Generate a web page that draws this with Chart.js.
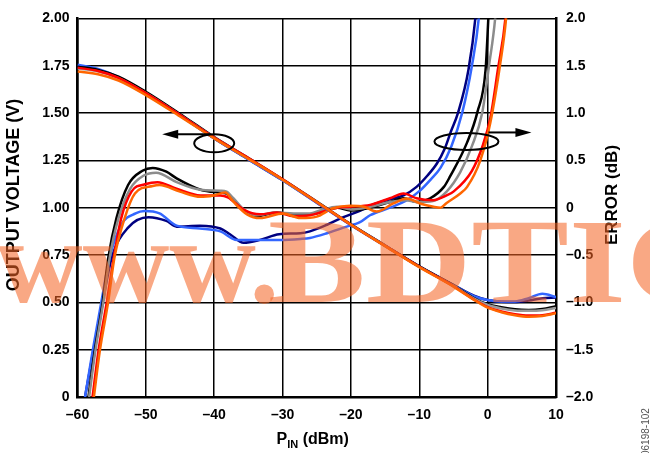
<!DOCTYPE html>
<html>
<head>
<meta charset="utf-8">
<script src="https://cdn.jsdelivr.net/npm/chart.js@4.4.1/dist/chart.umd.min.js"></script>
<style>
body { margin: 0; background: #fff; }
canvas { display: block; }
</style>
</head>
<body>
<canvas id="myChart" width="650" height="453"></canvas>
<script>
const ctx = document.getElementById('myChart')

// output voltage (V) vs PIN (dBm)
const xVolt = [-60, -57, -54, -50, -45, -40, -35, -30, -25, -20, -15, -10, -5, -2, 0, 2, 4, 6, 8, 10]
const voltNavy   = [1.748, 1.728, 1.688, 1.605, 1.487, 1.366, 1.255, 1.145, 1.027, 0.910, 0.800, 0.690, 0.592, 0.535, 0.512, 0.503, 0.502, 0.510, 0.522, 0.525]
const voltBlue   = [1.755, 1.733, 1.690, 1.605, 1.487, 1.366, 1.255, 1.145, 1.027, 0.908, 0.798, 0.688, 0.590, 0.533, 0.512, 0.505, 0.505, 0.522, 0.545, 0.528]
const voltBlack  = [1.745, 1.728, 1.692, 1.612, 1.495, 1.373, 1.262, 1.150, 1.032, 0.912, 0.800, 0.690, 0.590, 0.523, 0.490, 0.474, 0.463, 0.460, 0.465, 0.480]
const voltGray   = [1.735, 1.720, 1.685, 1.605, 1.490, 1.370, 1.260, 1.148, 1.030, 0.910, 0.800, 0.688, 0.588, 0.520, 0.486, 0.468, 0.457, 0.455, 0.458, 0.470]
const voltRed    = [1.740, 1.722, 1.686, 1.605, 1.490, 1.370, 1.262, 1.150, 1.030, 0.910, 0.798, 0.688, 0.585, 0.515, 0.475, 0.452, 0.437, 0.430, 0.432, 0.445]
const voltOrange = [1.720, 1.705, 1.672, 1.595, 1.482, 1.366, 1.258, 1.148, 1.030, 0.910, 0.797, 0.686, 0.583, 0.513, 0.472, 0.448, 0.432, 0.424, 0.428, 0.442]

// error (dB) vs PIN (dBm)
const errNavyX = [-58.9, -57.7, -56.3, -55.0, -52.6, -49.6, -47, -45.5, -42.1, -39.1, -37.7, -35.7, -33.3, -30.5, -27.4, -26, -23.5, -21.1, -18.6, -17.2, -14.3, -12.3, -10.4, -8.8, -7.4, -6.3, -5.4, -4.3, -2.8, -1.8, -1.5]
const errNavyY = [-2.0, -1.52, -0.99, -0.53, -0.21, -0.10, -0.14, -0.20, -0.19, -0.22, -0.28, -0.37, -0.34, -0.28, -0.27, -0.25, -0.18, -0.10, -0.03, 0.02, 0.09, 0.13, 0.22, 0.34, 0.47, 0.62, 0.80, 1.01, 1.46, 2.0, 2.3]
const errBlueX = [-58.9, -57.8, -56.5, -55.3, -53.6, -51.5, -50.2, -48, -45.5, -42.1, -39.1, -36.7, -33.3, -30.4, -27.4, -26, -23.5, -21.1, -18.6, -17.2, -14.3, -11.8, -9.9, -8.3, -6.9, -5.3, -3.7, -2.3, -1.3, -1.0]
const errBlueY = [-2.0, -1.52, -0.99, -0.53, -0.18, -0.06, -0.035, -0.06, -0.19, -0.22, -0.25, -0.34, -0.34, -0.34, -0.33, -0.32, -0.27, -0.21, -0.15, -0.08, 0.0, 0.08, 0.18, 0.30, 0.42, 0.65, 1.01, 1.50, 2.0, 2.3]
const errBlackX = [-58.4, -57.5, -56.3, -55.5, -54.3, -52.6, -50.5, -49.0, -47, -45.5, -42, -39.1, -38.2, -37.2, -35.2, -33.8, -30.8, -28.4, -26, -24, -22, -20.1, -17.2, -14.3, -12.3, -10.4, -8.4, -6.4, -5.5, -3, -1.5, -0.3, 0.1, 0.3]
const errBlackY = [-2.0, -1.52, -0.99, -0.53, -0.11, 0.24, 0.39, 0.42, 0.38, 0.31, 0.19, 0.16, 0.15, 0.08, -0.05, -0.09, -0.05, -0.07, -0.07, -0.04, 0.0, -0.03, 0.0, 0.06, 0.10, 0.06, 0.10, 0.22, 0.33, 0.69, 1.01, 1.46, 2.0, 2.3]
const errGrayX = [-58.3, -57.4, -56.2, -55.3, -54.0, -52.3, -50.3, -48.5, -45.5, -42, -39.1, -38.2, -37.2, -35.5, -33.8, -31, -28.4, -26, -24.5, -22, -20, -17.2, -14.3, -12, -10.4, -8, -6, -4, -2.3, -0.8, 0.2, 1.1, 1.4]
const errGrayY = [-2.0, -1.52, -0.99, -0.53, -0.11, 0.20, 0.34, 0.37, 0.27, 0.19, 0.18, 0.17, 0.10, -0.03, -0.08, -0.05, -0.06, -0.06, -0.03, 0.01, -0.02, 0.01, 0.06, 0.08, 0.06, 0.07, 0.17, 0.375, 0.65, 1.0, 1.5, 2.0, 2.3]
const errRedX = [-57.8, -56.95, -55.7, -54.7, -53.6, -52.1, -50, -48.3, -45.5, -42, -39.1, -38, -35.7, -33.3, -30.8, -28.4, -26, -24, -22, -20.1, -17.2, -14.3, -12.3, -10.4, -8, -6, -5, -2.3, -0.7, 0.4, 1.5, 2.6, 2.9]
const errRedY = [-2.0, -1.52, -0.99, -0.53, -0.11, 0.17, 0.25, 0.27, 0.20, 0.13, 0.13, 0.11, -0.02, -0.07, -0.05, -0.09, -0.08, -0.04, 0.0, 0.01, 0.03, 0.10, 0.15, 0.10, 0.08, 0.13, 0.17, 0.39, 0.66, 0.95, 1.46, 2.0, 2.3]
const errOrangeX = [-57.6, -56.75, -55.5, -54.6, -53.1, -51.6, -49, -48, -45, -42, -40.1, -38.4, -37.2, -35.2, -33.3, -29.9, -27.4, -25, -22.6, -20.1, -18.1, -16.2, -13.8, -11.8, -9.9, -7.9, -6.9, -6, -4, -3, -1.07, 0.4, 1.86, 2.7, 3.0]
const errOrangeY = [-2.0, -1.52, -0.99, -0.53, -0.11, 0.15, 0.23, 0.24, 0.17, 0.115, 0.13, 0.16, 0.063, -0.07, -0.11, -0.06, -0.11, -0.094, -0.006, 0.02, 0.01, -0.04, 0.045, 0.097, 0.045, 0.01, 0.0, 0.05, 0.15, 0.22, 0.50, 0.90, 1.53, 2.0, 2.3]

const xTicks = [-60, -50, -40, -30, -20, -10, 0, 10]

const colors = {
    orange: '#ff6600',
    red: '#ff0000',
    gray: '#999999',
    black: '#000000',
    blue: '#3366ff',
    navy: '#000080'
}

const font = "'Liberation Sans', Arial, sans-serif"

function pts(xs, ys) {
    return xs.map((x, i) => ({ x: x, y: ys[i] }))
}

function line(data, color, axis) {
    return {
        data: data,
        yAxisID: axis,
        borderColor: color,
        backgroundColor: color,
        borderWidth: 2.5,
        pointRadius: 0,
        fill: false,
        cubicInterpolationMode: 'monotone'
    }
}

function dash(v) {
    return String(v).replace('-', '\u2013')
}

function arrow(c, x0, y0, x1, y1) {
    const dir = Math.sign(x1 - x0)
    c.beginPath()
    c.moveTo(x0, y0)
    c.lineTo(x1 - dir * 12, y1)
    c.stroke()
    c.beginPath()
    c.moveTo(x1, y1)
    c.lineTo(x1 - dir * 16, y1 - 4.5)
    c.lineTo(x1 - dir * 16, y1 + 4.5)
    c.closePath()
    c.fill()
}

const extras = {
    id: 'extras',
    afterDatasetsDraw(chart) {
        const c = chart.ctx
        const sx = chart.scales.x, sv = chart.scales.yV, se = chart.scales.yE
        c.save()
        c.strokeStyle = '#000'
        c.fillStyle = '#000'
        c.lineWidth = 2
        let cx = sx.getPixelForValue(-40), cy = sv.getPixelForValue(1.34)
        c.beginPath()
        c.ellipse(cx, cy, 20, 9, 0, 0, Math.PI * 2)
        c.stroke()
        arrow(c, cx - 4, cy - 9, cx - 52, cy - 9)
        cx = sx.getPixelForValue(-3.1)
        cy = se.getPixelForValue(0.70)
        c.beginPath()
        c.ellipse(cx, cy, 32, 8.5, 0, 0, Math.PI * 2)
        c.stroke()
        arrow(c, cx + 22, cy - 9, cx + 65, cy - 9)
        c.restore()
    },
    afterDraw(chart) {
        const c = chart.ctx
        const a = chart.chartArea
        c.save()
        c.fillStyle = '#000'
        c.textAlign = 'center'
        c.textBaseline = 'middle'
        c.save()
        c.font = 'bold 18px ' + font
        c.translate(14, 195)
        c.rotate(-Math.PI / 2)
        c.fillText('OUTPUT VOLTAGE (V)', 0, 0)
        c.restore()
        c.save()
        c.font = 'bold 17px ' + font
        c.translate(612, 195)
        c.rotate(-Math.PI / 2)
        c.fillText('ERROR (dB)', 0, 0)
        c.restore()

        // x title with subscript
        const p = 'P', sub = 'IN', rest = ' (dBm)'
        c.font = 'bold 16px ' + font
        const wp = c.measureText(p).width, wr = c.measureText(rest).width
        c.font = 'bold 11px ' + font
        const ws = c.measureText(sub).width
        let x0 = (a.left + a.right) / 2 - 4 - (wp + ws + wr) / 2
        c.textAlign = 'left'
        c.textBaseline = 'alphabetic'
        c.font = 'bold 16px ' + font
        c.fillText(p, x0, 444)
        c.font = 'bold 11px ' + font
        c.fillText(sub, x0 + wp, 448)
        c.font = 'bold 16px ' + font
        c.fillText(rest, x0 + wp + ws, 444)

        c.save()
        c.fillStyle = '#555'
        c.font = '10px ' + font
        c.translate(646, 456)
        c.rotate(-Math.PI / 2)
        c.textBaseline = 'middle'
        c.fillText('06198-102', 0, 0)
        c.restore()

        // watermark
        c.fillStyle = 'rgba(245, 100, 35, 0.56)'
        c.font = "bold 120px 'Liberation Serif', 'Times New Roman', serif"
        c.textBaseline = 'alphabetic'
        c.fillText('www.', -4, 302)
        c.save()
        c.translate(268, 302)
        c.scale(1.22, 1)
        c.fillText('BDTIC', 0, 0)
        c.restore()
        c.restore()
    }
}

const myChart = new Chart(ctx, {
    type: 'line',
    data: {
        datasets: [
            line(pts(xVolt, voltOrange), colors.orange, 'yV'),
            line(pts(xVolt, voltRed), colors.red, 'yV'),
            line(pts(xVolt, voltGray), colors.gray, 'yV'),
            line(pts(xVolt, voltBlack), colors.black, 'yV'),
            line(pts(xVolt, voltBlue), colors.blue, 'yV'),
            line(pts(xVolt, voltNavy), colors.navy, 'yV'),
            line(pts(errOrangeX, errOrangeY), colors.orange, 'yE'),
            line(pts(errRedX, errRedY), colors.red, 'yE'),
            line(pts(errGrayX, errGrayY), '#8c8c8c', 'yE'),
            line(pts(errBlackX, errBlackY), colors.black, 'yE'),
            line(pts(errBlueX, errBlueY), colors.blue, 'yE'),
            line(pts(errNavyX, errNavyY), colors.navy, 'yE')
        ]
    },
    options: {
        responsive: false,
        animation: false,
        devicePixelRatio: 1,
        layout: { padding: { top: 15, left: 0, right: 0, bottom: 0 } },
        plugins: {
            legend: { display: false },
            tooltip: { enabled: false }
        },
        scales: {
            x: {
                type: 'linear',
                min: -60,
                max: 10,
                afterBuildTicks: s => { s.ticks = xTicks.map(v => ({ value: v })) },
                afterFit: s => { s.height = 56 },
                grid: { color: '#000', lineWidth: 1.5, drawTicks: false },
                border: { color: '#000', width: 2.5 },
                ticks: {
                    color: '#000',
                    padding: 10,
                    maxRotation: 0,
                    font: { family: font, size: 14, weight: 'bold' },
                    callback: v => dash(v)
                }
            },
            yV: {
                position: 'left',
                min: 0,
                max: 2,
                afterFit: s => { s.width = 77.5 },
                grid: { color: '#000', lineWidth: 1.5, drawTicks: false },
                border: { color: '#000', width: 2.5 },
                ticks: {
                    stepSize: 0.25,
                    color: '#000',
                    padding: 8,
                    font: { family: font, size: 14, weight: 'bold' },
                    callback: v => v === 0 ? '0' : v.toFixed(2)
                }
            },
            yE: {
                position: 'right',
                min: -2,
                max: 2,
                afterFit: s => { s.width = 94 },
                grid: { display: false, drawTicks: false },
                border: { color: '#000', width: 2.5 },
                ticks: {
                    stepSize: 0.5,
                    color: '#000',
                    padding: 10,
                    font: { family: font, size: 14, weight: 'bold' },
                    callback: v => v === 0 ? '0' : dash(v.toFixed(1))
                }
            }
        }
    },
    plugins: [extras]
})
</script>
</body>
</html>
